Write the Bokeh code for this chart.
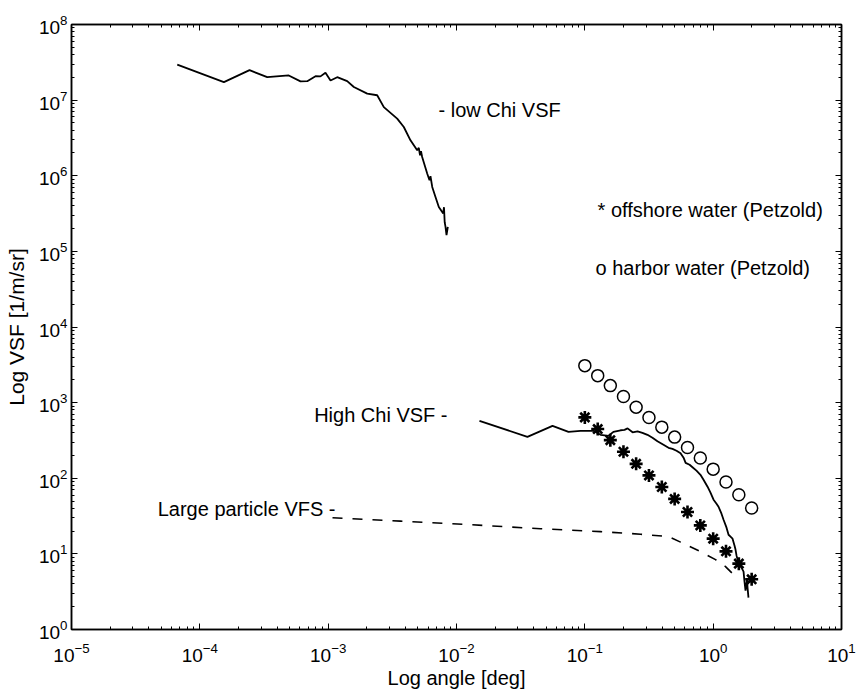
from bokeh.plotting import figure
from bokeh.models import Range1d, LogAxis, FixedTicker, CustomJSTickFormatter
from bokeh.core.properties import value
from bokeh.embed import file_html
from bokeh.resources import INLINE

# ---- data ----
low_chi_angle = [6.67e-5, 1.54e-4, 2.44e-4, 3.35e-4, 4.93e-4, 6.09e-4, 6.87e-4, 7.97e-4,
                 8.71e-4, 9.53e-4, 1.043e-3, 1.176e-3, 1.407e-3, 1.585e-3, 2.015e-3, 2.41e-3,
                 2.715e-3, 3.45e-3, 3.885e-3, 4.38e-3, 4.94e-3, 5.085e-3, 5.196e-3, 5.29e-3,
                 5.40e-3, 5.91e-3, 6.16e-3, 6.27e-3, 6.47e-3,
                 6.86e-3, 7.28e-3, 7.88e-3, 7.99e-3, 8.09e-3, 8.21e-3, 8.36e-3, 8.56e-3]
low_chi_vsf = [2.94e7, 1.73e7, 2.49e7, 2.01e7, 2.12e7, 1.77e7, 1.78e7, 2.07e7,
               2.06e7, 2.30e7, 1.82e7, 2.01e7, 1.78e7, 1.49e7, 1.22e7, 1.16e7,
               8.09e6, 5.69e6, 4.41e6, 2.94e6, 2.17e6, 2.342e6, 1.865e6, 2.106e6,
               1.77e6, 1.07e6, 8.72e5, 9.85e5, 7.11e5,
               5.25e5, 3.87e5, 3.17e5, 3.84e5, 2.43e5, 2.11e5, 1.64e5, 2.11e5]

high_chi_angle = [0.0151, 0.0357, 0.0560, 0.0746, 0.0925, 0.117, 0.1324, 0.153, 0.167, 0.190,
                  0.2037, 0.2153, 0.2355, 0.2576, 0.281, 0.3076, 0.3365, 0.368, 0.410, 0.449,
                  0.482, 0.518, 0.557, 0.588, 0.610, 0.655, 0.690, 0.741, 0.796, 0.841,
                  0.904, 0.953, 1.007, 1.062, 1.101, 1.161, 1.205, 1.271, 1.318, 1.365,
                  1.416, 1.466, 1.493, 1.521, 1.549, 1.603, 1.663, 1.725, 1.754, 1.787,
                  1.836, 1.853, 1.884]
high_chi_vsf = [574, 353, 493, 411, 424, 424, 375, 364, 411, 431,
                437, 457, 405, 417, 399, 375, 343, 308, 277, 253,
                245, 231, 214, 187, 160, 151, 140, 126, 111, 95.5,
                77.3, 64.4, 52.0, 46.0, 42.0, 34.0, 28.3, 22.2, 17.9, 16.9,
                15.9, 12.9, 11.4, 9.48, 8.39, 7.21, 6.58, 5.83, 4.31, 3.27,
                4.57, 3.58, 2.64]

large_particle_angle = [1.081e-3, 3.66e-3, 0.01285, 0.0451, 0.1325, 0.2716, 0.449, 0.557,
                        0.797, 1.043, 1.248, 1.576]
large_particle_vsf = [30.1, 27.1, 24.3, 21.5, 19.7, 18.2, 16.9, 14.3, 10.7, 8.40, 6.79, 4.57]

petzold_angle = [0.1, 0.126, 0.158, 0.2, 0.251, 0.316, 0.398, 0.501, 0.631, 0.794,
                 1.0, 1.259, 1.585, 1.995]
offshore_vsf = [638, 447, 319, 224, 155, 109, 76.5, 53.3, 35.8, 23.8, 15.9, 10.8, 7.43, 4.61]
harbor_vsf = [3083, 2275, 1679, 1202, 871, 635, 474, 350, 255, 185, 132, 89.1, 60.6, 40.4]

left_label_text = ["- low Chi VSF", "* offshore water (Petzold)", "o harbor water (Petzold)"]
left_label_x = [7.24e-3, 0.1256, 0.121]
left_label_y = [7.32e6, 3.50e5, 6.01e4]
right_label_text = ["High Chi VSF -", "Large particle VFS -"]
right_label_x = [8.51e-3, 1.141e-3]
right_label_y = [689, 39.6]

x_major = [10.0 ** k for k in range(-5, 2)]
x_minor = [m * 10.0 ** k for k in range(-5, 1) for m in range(2, 10)]
y_major = [10.0 ** k for k in range(0, 9)]
y_minor = [m * 10.0 ** k for k in range(0, 8) for m in range(2, 10)]

FONT = "Liberation Sans"

p = figure(width=858, height=691, x_axis_type="log", y_axis_type="log",
           x_range=Range1d(1e-5, 1e1), y_range=Range1d(1e0, 1e8),
           output_backend="svg", toolbar_location=None,
           min_border_left=71, min_border_right=17, min_border_top=24, min_border_bottom=61)
p.xgrid.visible = False
p.ygrid.visible = False
p.outline_line_color = "black"
p.outline_line_width = 1.5
p.background_fill_color = "white"
p.border_fill_color = "white"

p.xaxis.axis_label = "Log angle [deg]"
p.yaxis.axis_label = "Log VSF [1/m/sr]"


def style_axis(ax, major, minor, show_labels):
    ax.ticker = FixedTicker(ticks=major, minor_ticks=minor)
    ax.major_tick_in = 6
    ax.major_tick_out = 0
    ax.minor_tick_in = 3
    ax.minor_tick_out = 0
    ax.axis_line_color = "black"
    ax.axis_line_width = 1.5
    ax.major_tick_line_color = "black"
    ax.minor_tick_line_color = "black"
    ax.major_label_text_font = FONT
    ax.major_label_text_color = "black"
    ax.axis_label_text_font = FONT
    ax.axis_label_text_font_style = "normal"
    ax.axis_label_text_color = "black"
    if show_labels:
        ax.major_label_text_font_size = "19px"
    else:
        ax.formatter = CustomJSTickFormatter(code="return ''")
        ax.major_label_text_font_size = "2px"
        ax.major_label_standoff = 0


for ax in p.xaxis:
    style_axis(ax, x_major, x_minor, True)
    ax.major_label_standoff = 13
    ax.axis_label_standoff = 2
    ax.axis_label_text_font_size = "20px"
for ax in p.yaxis:
    style_axis(ax, y_major, y_minor, True)
    ax.major_label_standoff = 4
    ax.axis_label_standoff = 8
    ax.axis_label_text_font_size = "21px"

top_axis = LogAxis()
style_axis(top_axis, x_major, x_minor, False)
p.add_layout(top_axis, "above")
right_axis = LogAxis()
style_axis(right_axis, y_major, y_minor, False)
p.add_layout(right_axis, "right")

p.line(low_chi_angle, low_chi_vsf, line_color="black", line_width=1.8)
p.line(high_chi_angle, high_chi_vsf, line_color="black", line_width=1.8)
p.line(large_particle_angle, large_particle_vsf, line_color="black", line_width=1.6,
       line_dash="10 10")
p.scatter(petzold_angle, offshore_vsf, marker="asterisk", size=13, line_color="black",
          line_width=2.6)
p.scatter(petzold_angle, harbor_vsf, marker="circle", size=12, fill_color=None,
          line_color="black", line_width=1.5)

p.text(left_label_x, left_label_y, text=left_label_text, text_font=value(FONT),
       text_font_size=value("20px"), text_baseline="middle", text_align="left",
       text_color="black")
p.text(right_label_x, right_label_y, text=right_label_text, text_font=value(FONT),
       text_font_size=value("20px"), text_baseline="middle", text_align="right",
       text_color="black")

open("out.html", "w").write(file_html(p, INLINE))
